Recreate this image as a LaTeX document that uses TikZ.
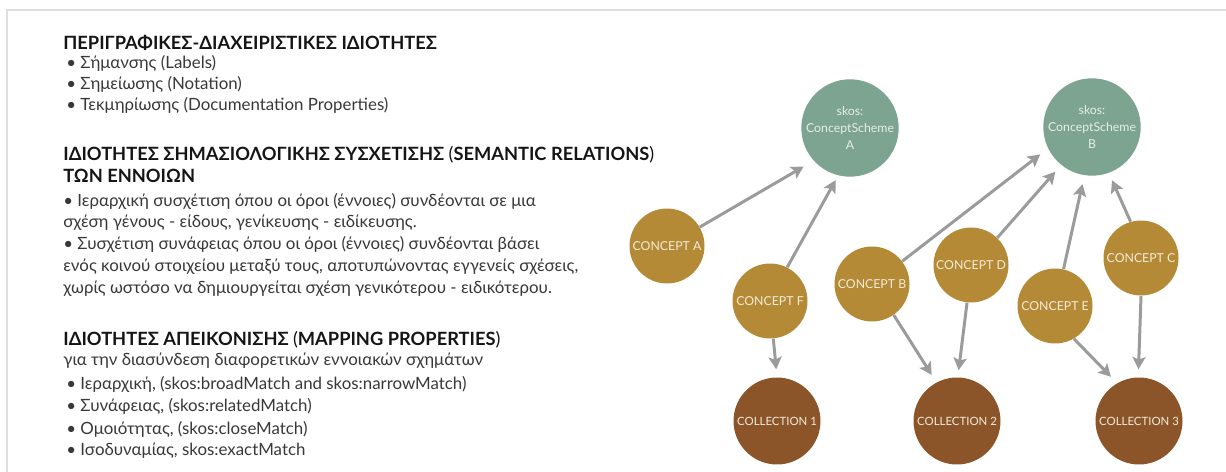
\documentclass[tikz,border=0pt]{standalone}
\usepackage{fontspec}
\setmainfont{Lato}
\usepackage{xcolor}
\definecolor{schemefill}{HTML}{7DA391}
\definecolor{conceptfill}{HTML}{B48A36}
\definecolor{collfill}{HTML}{8B5429}
\definecolor{nodetext}{HTML}{F4EBD8}
\definecolor{schemetext}{HTML}{E6EEE9}
\definecolor{relgray}{HTML}{9B9B9B}
\definecolor{framegray}{HTML}{DEDEDE}
\definecolor{bodytext}{HTML}{383838}
\definecolor{headtext}{HTML}{151515}
\usetikzlibrary{arrows.meta}
\tikzset{
  circ/.style       = {circle,inner sep=0pt,align=center,text=nodetext,
                       font=\fontsize{7}{9.6}\selectfont},
  scheme/.style     = {circ,fill=schemefill,text=schemetext,minimum size=1.62cm},
  concept/.style    = {circ,fill=conceptfill,minimum size=1.5cm},
  collection/.style = {circ,fill=collfill,minimum size=1.74cm,
                       font=\fontsize{6.5}{8}\selectfont},
  rel/.style        = {-{Stealth[length=7pt,width=7.5pt,inset=1.5pt]},
                       line width=1.7pt,draw=relgray},
  head/.style       = {anchor=west,inner sep=0pt,text=headtext,
                       font=\fontsize{10.4}{12}\selectfont\bfseries},
  item/.style       = {anchor=west,inner sep=0pt,text=bodytext,
                       font=\fontsize{9.6}{11}\selectfont},
}

\begin{document}
\begin{tikzpicture}[x=0.02cm,y=-0.02cm]
  \useasboundingbox (0,0) rectangle (1226,472);
  % Frame (only top and left edges show)
  \draw[framegray,line width=1.2pt] (1226,10) -- (7,10) -- (7,472);

  % ---- Text column ----
  \node[head] (h1) at (63,43) {ΠΕΡΙΓΡΑΦΙΚΕΣ-ΔΙΑΧΕΙΡΙΣΤΙΚΕΣ ΙΔΙΟΤΗΤΕΣ};
  \node[item] (d1) at (66,63)  {• Σήμανσης (Labels)};
  \node[item] (d2) at (66,84)  {• Σημείωσης (Notation)};
  \node[item] (d3) at (66,105) {• Τεκμηρίωσης (Documentation Properties)};

  \node[head] (h2) at (63,155)
      {ΙΔΙΟΤΗΤΕΣ ΣΗΜΑΣΙΟΛΟΓΙΚΗΣ ΣΥΣΧΕΤΙΣΗΣ \textmd{(}SEMANTIC RELATIONS\textmd{)}};
  \node[head] (h2b) at (63,176) {ΤΩΝ ΕΝΝΟΙΩΝ};
  \node[item] (s1) at (63,201) {• Ιεραρχική συσχέτιση όπου οι όροι (έννοιες) συνδέονται σε μια};
  \node[item] (s2) at (63,223) {σχέση γένους - είδους, γενίκευσης - ειδίκευσης.};
  \node[item] (s3) at (63,245) {• Συσχέτιση συνάφειας όπου οι όροι (έννοιες) συνδέονται βάσει};
  \node[item] (s4) at (63,267) {ενός κοινού στοιχείου μεταξύ τους, αποτυπώνοντας εγγενείς σχέσεις,};
  \node[item] (s5) at (63,289) {χωρίς ωστόσο να δημιουργείται σχέση γενικότερου - ειδικότερου.};

  \node[head] (h3) at (63,340)
      {ΙΔΙΟΤΗΤΕΣ ΑΠΕΙΚΟΝΙΣΗΣ \textmd{(}MAPPING PROPERTIES\textmd{)}};
  \node[item] (m0) at (63,361) {για την διασύνδεση διαφορετικών εννοιακών σχημάτων};
  \node[item] (m1) at (66,384) {• Ιεραρχική, (skos:broadMatch and skos:narrowMatch)};
  \node[item] (m2) at (66,406) {• Συνάφειας, (skos:relatedMatch)};
  \node[item] (m3) at (66,429) {• Ομοιότητας, (skos:closeMatch)};
  \node[item] (m4) at (66,451) {• Ισοδυναμίας, skos:exactMatch};

  % ---- Schemes, concepts, collections ----
  \node[scheme] (schA) at (850,128) {skos:\\ConceptScheme\\A};
  \node[scheme] (schB) at (1092,127) {skos:\\ConceptScheme\\B};
  \foreach \n/\x/\y/\l in {cA/667/246/A, cF/770/301/F, cB/872/284/B,
                           cD/971/265/D, cE/1055/306/E, cC/1141/258/C}
    \node[concept] (\n) at (\x,\y) {CONCEPT \l};
  \foreach \i/\x in {1/777, 2/957, 3/1139}
    \node[collection] (col\i) at (\x,421) {COLLECTION \i};

  % ---- Relations (source angle / target angle / gap) ----
  \foreach \s/\a/\t/\b/\g in {cA/30/schA/222/6.5pt,  cF/63/schA/256/3pt,
                              cB/37/schB/206/5.5pt,  cD/46/schB/231/5pt,
                              cE/77/schB/261/5pt,    cC/106/schB/290/4.5pt,
                              cF/275/col1/90/4.5pt,  cB/305/col2/118/5pt,
                              cD/264/col2/89/4pt,    cE/300/col3/120/5pt,
                              cC/270/col3/91/4.5pt}
    \draw[rel,shorten >=\g] (\s.\a) -- (\t.\b);
\end{tikzpicture}
\end{document}
